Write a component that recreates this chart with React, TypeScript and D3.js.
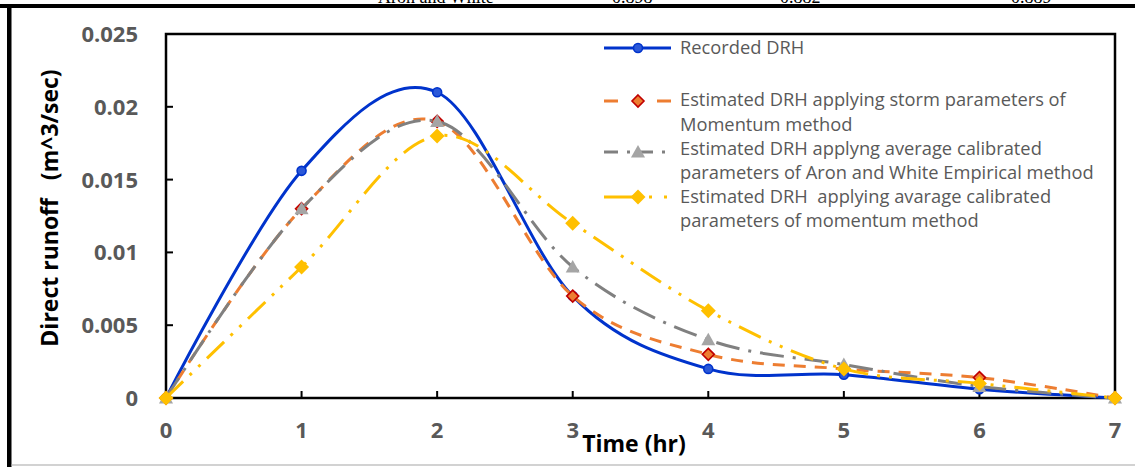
import React from "react";
import * as d3 from "d3";

const hours = [0, 1, 2, 3, 4, 5, 6, 7];
const recorded = [0, 0.0156, 0.021, 0.007, 0.002, 0.0016, 0.0006, 0];
const stormMomentum = [0, 0.013, 0.019, 0.007, 0.003, 0.002, 0.0014, 0];
const aronWhite = [0, 0.013, 0.019, 0.009, 0.004, 0.0023, 0.0008, 0];
const avgMomentum = [0, 0.009, 0.018, 0.012, 0.006, 0.002, 0.001, 0];
const yTicks = [0, 0.005, 0.01, 0.015, 0.02, 0.025];
const yTickLabels = ["0", "0.005", "0.01", "0.015", "0.02", "0.025"];
const xTickLabels = ["0", "1", "2", "3", "4", "5", "6", "7"];

const legendLabels = [
  ["Recorded DRH"],
  ["Estimated DRH applying storm parameters of", "Momentum method"],
  ["Estimated DRH applyng average calibrated", "parameters of Aron and White Empirical method"],
  ["Estimated DRH  applying avarage calibrated", "parameters of momentum method"],
];

const tableTexts = ["Aron and White", "0.898", "0.882", "0.889"];

type Series = {
  values: number[];
  color: string;
  dash: string | undefined;
  legendDash: string | undefined;
  marker: "circle" | "diamondRed" | "triangle" | "diamond";
};

const series: Series[] = [
  { values: recorded, color: "#0033CC", dash: undefined, legendDash: undefined, marker: "circle" },
  { values: stormMomentum, color: "#ED7D31", dash: "12,9", legendDash: "14,39,14", marker: "diamondRed" },
  { values: aronWhite, color: "#808080", dash: "24,9,3,9", legendDash: "14,9,3,9", marker: "triangle" },
  { values: avgMomentum, color: "#FFC000", dash: "24,9,3,9,3,9", legendDash: "34,11,3,12,3,20", marker: "diamond" },
];

function Marker({ kind, x, y }: { kind: Series["marker"]; x: number; y: number }) {
  if (kind === "circle") {
    return <circle cx={x} cy={y} r={4.5} fill="#2B58D8" stroke="#0033CC" strokeWidth={1.6} />;
  }
  if (kind === "diamondRed") {
    const s = 6;
    return (
      <path
        d={`M${x},${y - s}L${x + s},${y}L${x},${y + s}L${x - s},${y}Z`}
        fill="#ED7D31"
        stroke="#C00000"
        strokeWidth={1.6}
      />
    );
  }
  if (kind === "triangle") {
    const s = 7;
    return (
      <path d={`M${x},${y - s}L${x + s},${y + s * 0.8}L${x - s},${y + s * 0.8}Z`} fill="#A5A5A5" />
    );
  }
  const s = 7.5;
  return <path d={`M${x},${y - s}L${x + s},${y}L${x},${y + s}L${x - s},${y}Z`} fill="#FFC000" />;
}

export default function App() {
  const W = 1135;
  const H = 467;
  const x = d3.scaleLinear().domain([0, 7]).range([166, 1115]);
  const y = d3.scaleLinear().domain([0, 0.025]).range([398, 34]);

  const line = d3
    .line<number>()
    .x((_, i) => x(hours[i]))
    .y((d) => y(d))
    .curve(d3.curveCardinal.tension(0));

  const tickFont = "'Open Sans', sans-serif";
  const legendX0 = 604;
  const legendX1 = 671;
  const legendMarkX = 638;
  const legendTextX = 680;
  const legendSymY = [48, 101, 152, 197];
  const legendBase = [[54], [106, 131], [155, 179], [203, 227]];
  const tableX = [378, 612, 780, 1011];

  return (
    <div style={{ position: "absolute", left: 0, top: 0 }}>
      <svg width={W} height={H} style={{ display: "block" }}>
        <rect x={0} y={0} width={W} height={H} fill="#fff" />
        {tableTexts.map((t, i) => (
          <text
            key={i}
            x={tableX[i]}
            y={3}
            fontFamily="'Liberation Serif', serif"
            fontSize={18}
            fill="#000"
          >
            {t}
          </text>
        ))}
        <rect x={0} y={4} width={W} height={4} fill="#000" />
        <rect x={7} y={4} width={4.5} height={H - 4} fill="#000" />
        <line x1={11} x2={W} y1={465} y2={465} stroke="#A6A6A6" strokeWidth={1.2} />

        {/* plot frame */}
        <rect
          x={x(0)}
          y={y(0.025)}
          width={x(7) - x(0)}
          height={y(0) - y(0.025)}
          fill="none"
          stroke="#000"
          strokeWidth={2.5}
        />
        {yTicks.map((v, i) => (
          <g key={"y" + i}>
            <line x1={x(0)} x2={x(0) + 7} y1={y(v)} y2={y(v)} stroke="#000" strokeWidth={2} />
            <text
              x={138}
              y={y(v)}
              dy="0.36em"
              textAnchor="end"
              fontFamily={tickFont}
              fontWeight={700}
              fontSize={22}
              fill="#595959"
            >
              {yTickLabels[i]}
            </text>
          </g>
        ))}
        {hours.map((h, i) => (
          <g key={"x" + i}>
            <line x1={x(h)} x2={x(h)} y1={y(0)} y2={y(0) - 7} stroke="#000" strokeWidth={2} />
            <text
              x={x(h)}
              y={438}
              textAnchor="middle"
              fontFamily={tickFont}
              fontWeight={700}
              fontSize={22}
              fill="#595959"
            >
              {xTickLabels[i]}
            </text>
          </g>
        ))}

        {/* axis titles */}
        <text
          x={634}
          y={452}
          textAnchor="middle"
          fontFamily={tickFont}
          fontWeight={700}
          fontSize={23}
          fill="#000"
        >
          Time (hr)
        </text>
        <text
          transform={`translate(58,208) rotate(-90)`}
          textAnchor="middle"
          fontFamily={tickFont}
          fontWeight={700}
          fontSize={23}
          fill="#000"
          style={{ whiteSpace: "pre" }}
        >
          {"Direct runoff   (m^3/sec)"}
        </text>

        {/* series */}
        {series.map((s, si) => (
          <g key={"s" + si}>
            <path
              d={line(s.values) || ""}
              fill="none"
              stroke={s.color}
              strokeWidth={3}
              strokeDasharray={s.dash}
              strokeLinecap="butt"
            />
            {s.values.map((v, i) => (
              <Marker key={i} kind={s.marker} x={x(hours[i])} y={y(v)} />
            ))}
          </g>
        ))}

        {/* legend */}
        {series.map((s, si) => (
          <g key={"l" + si}>
            <line
              x1={legendX0}
              x2={legendX1}
              y1={legendSymY[si]}
              y2={legendSymY[si]}
              stroke={s.color}
              strokeWidth={3}
              strokeDasharray={s.legendDash}
            />
            <Marker kind={s.marker} x={legendMarkX} y={legendSymY[si]} />
            {legendLabels[si].map((t, li) => (
              <text
                key={li}
                x={legendTextX}
                y={legendBase[si][li]}
                fontFamily={tickFont}
                fontSize={18.3}
                fill="#595959"
                style={{ whiteSpace: "pre" }}
              >
                {t}
              </text>
            ))}
          </g>
        ))}
      </svg>
    </div>
  );
}
